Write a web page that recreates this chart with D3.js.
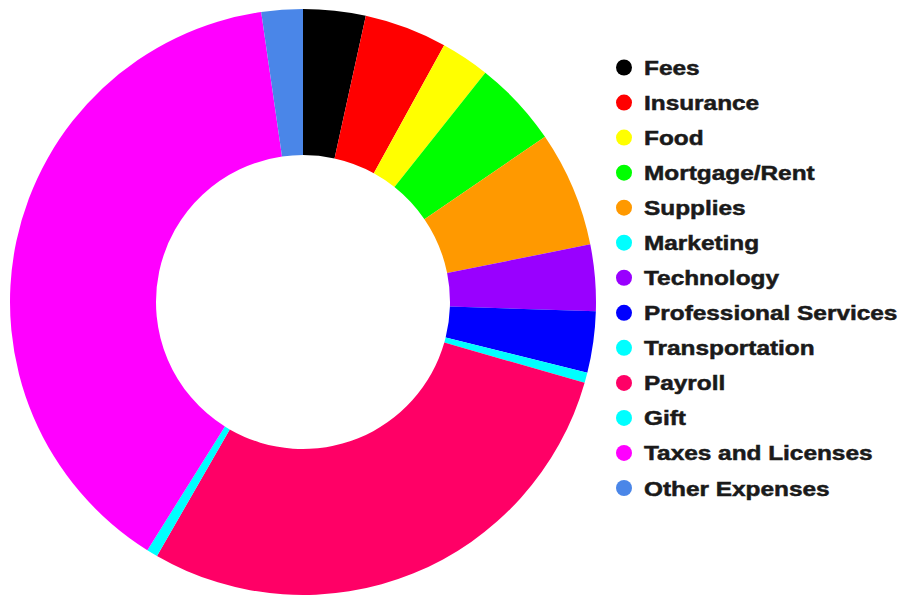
<!DOCTYPE html>
<html>
<head>
<meta charset="utf-8">
<script src="https://cdn.jsdelivr.net/npm/d3@7"></script>
<style>
  html, body { margin: 0; padding: 0; background: #fff; }
  svg { display: block; }
</style>
</head>
<body>
<svg id="chart" width="901" height="599"></svg>
<script>
const categories = ["Fees", "Insurance", "Food", "Mortgage/Rent", "Supplies", "Marketing",
  "Technology", "Professional Services", "Transportation", "Payroll", "Gift",
  "Taxes and Licenses", "Other Expenses"];
const values = [3.44, 4.56, 2.69, 4.78, 6.38, 0, 3.65, 3.39, 0.56, 28.86, 0.61, 38.81, 2.28];
const colors = ["#000000", "#ff0000", "#ffff00", "#00ff00", "#ff9900", "#00ffff",
  "#9900ff", "#0000ff", "#00ffff", "#ff0066", "#00ffff", "#ff00ff", "#4a86e8"];

const svg = d3.select("#chart");
const cx = 303, cy = 302, outerR = 293, innerR = 147;

const data = categories.map((c, i) => ({ name: c, value: values[i], color: colors[i] }));

const pie = d3.pie().sort(null).value(d => d.value);
const arc = d3.arc().innerRadius(innerR).outerRadius(outerR);

svg.append("g")
  .attr("transform", `translate(${cx},${cy})`)
  .selectAll("path")
  .data(pie(data))
  .join("path")
  .attr("d", arc)
  .attr("fill", d => d.data.color);

const legendY = d3.scalePoint().domain(categories).range([67.5, 488]);

const lg = svg.append("g").selectAll("g")
  .data(data)
  .join("g")
  .attr("transform", d => `translate(624,${legendY(d.name)})`);

lg.append("circle").attr("r", 8).attr("fill", d => d.color);
lg.append("text")
  .attr("transform", "translate(20,7.5) scale(1.19,1)")
  .attr("font-family", "'Liberation Sans', Arial, sans-serif")
  .attr("font-weight", "bold")
  .attr("font-size", 20.5)
  .attr("fill", "#1a1a1a")
  .attr("stroke", "#1a1a1a")
  .attr("stroke-width", 0.5)
  .text(d => d.name);
</script>
</body>
</html>
